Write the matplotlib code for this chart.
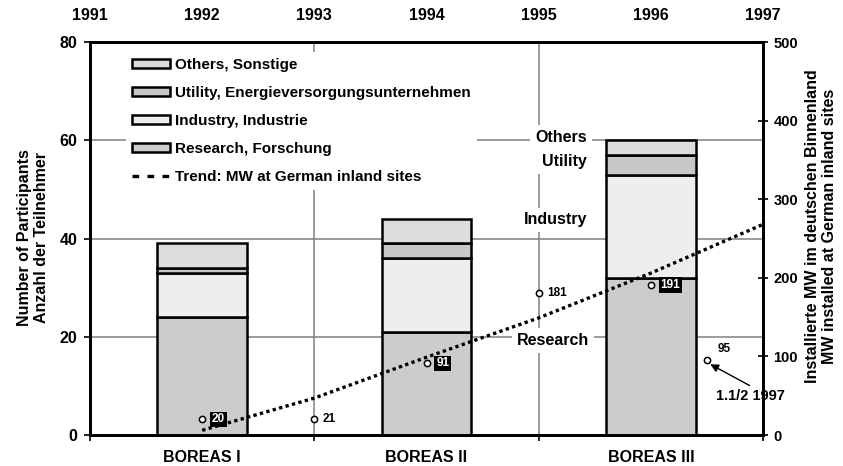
import matplotlib
matplotlib.use('Agg')
import matplotlib.pyplot as plt
from matplotlib.patches import Patch
from matplotlib.lines import Line2D

plt.rcParams['font.family'] = ['Liberation Sans', 'DejaVu Sans']
plt.rcParams['font.weight'] = 'bold'

# participants per conference (left axis)
boreas = ['BOREAS I', 'BOREAS II', 'BOREAS III']
boreas_year = [1992, 1994, 1996]
research = [24, 21, 32]
industry = [9, 15, 21]
utility = [1, 3, 4]
others = [5, 5, 3]

# MW installed at German inland sites (right axis)
mw_year = [1992, 1993, 1994, 1995, 1996, 1996.5]
mw_value = [20, 21, 91, 181, 191, 95]
trend_year = [1992, 1993, 1994, 1995, 1996, 1997]
trend_value = [6, 47, 99, 149, 206, 268]

top_years = [1991, 1992, 1993, 1994, 1995, 1996, 1997]

c_research = '#cccccc'
c_industry = '#eeeeee'
c_utility = '#c8c8c8'
c_others = '#dddddd'

fig = plt.figure(figsize=(8.43, 4.66), dpi=100)
ax = fig.add_axes([0.1068, 0.0665, 0.7983, 0.8433])

bw = 0.8
ek = dict(edgecolor='black', linewidth=1.8, width=bw, zorder=3)
b1 = [r for r in research]
b2 = [b1[i] + industry[i] for i in range(3)]
b3 = [b2[i] + utility[i] for i in range(3)]
ax.bar(boreas_year, research, color=c_research, **ek)
ax.bar(boreas_year, industry, bottom=b1, color=c_industry, **ek)
ax.bar(boreas_year, utility, bottom=b2, color=c_utility, **ek)
ax.bar(boreas_year, others, bottom=b3, color=c_others, **ek)

ax.set_xlim(1991, 1997)
ax.set_ylim(0, 80)
ax.set_yticks([0, 20, 40, 60, 80])
ax.set_xticks([1991, 1993, 1995, 1997])
ax.set_xticklabels([])
ax.set_xticks(boreas_year, minor=True)
ax.set_xticklabels(boreas, minor=True, fontsize=11.5)
ax.tick_params(axis='x', which='minor', length=0, pad=11)
ax.tick_params(axis='x', which='major', direction='out', length=4, width=1.2)
ax.tick_params(axis='y', direction='out', length=4, width=1.2, labelsize=11.5, pad=5)
ax.grid(True, which='major', color='#808080', linewidth=1.1, zorder=0)
ax.set_axisbelow(True)
for s in ax.spines.values():
    s.set_linewidth(2)

# years on top
sec = ax.secondary_xaxis('top')
sec.set_xticks(top_years)
sec.set_xticklabels([str(y) for y in top_years], fontsize=11.5)
sec.tick_params(length=0, pad=14)
sec.spines['top'].set_visible(False)

ax2 = ax.twinx()
ax2.set_ylim(0, 500)
ax2.set_yticks([0, 100, 200, 300, 400, 500])
ax2.tick_params(axis='y', direction='inout', length=7, width=1.2, labelsize=10.5, pad=4)
for s in ax2.spines.values():
    s.set_linewidth(2)

ax2.plot(trend_year, trend_value, color='black', linestyle=(0, (1, 1)),
         linewidth=2.4, zorder=4)
ax2.plot(mw_year, mw_value, linestyle='none', marker='o', markersize=4.5,
         markerfacecolor='white', markeredgecolor='black', markeredgewidth=1.1, zorder=5)

for yr, v in zip(mw_year, mw_value):
    if yr in boreas_year:
        ax2.annotate(str(v), (yr, v), xytext=(7, 0), textcoords='offset points',
                     ha='left', va='center', fontsize=8.5, color='white',
                     bbox=dict(boxstyle='square,pad=0.15', fc='black', ec='none'), zorder=6)
    elif yr == mw_year[-1]:
        ax2.annotate(str(v), (yr, v), xytext=(8, 4), textcoords='offset points',
                     ha='left', va='bottom', fontsize=8.5, zorder=6)
    else:
        ax2.annotate(str(v), (yr, v), xytext=(6, 0), textcoords='offset points',
                     ha='left', va='center', fontsize=8.5, zorder=6)

# arrow pointing at the half-year value
ax2.annotate('', xy=(1996.53, 90), xytext=(1996.88, 63),
             arrowprops=dict(arrowstyle='-|>', color='black', lw=1, mutation_scale=12,
                             shrinkA=0, shrinkB=0))
ax2.text(1996.89, 50, '1.1/2 1997', ha='center', va='center', fontsize=10.5)

# category names next to the BOREAS III bar
lbl_box = dict(boxstyle='square,pad=0.3', fc='white', ec='none')
ax.text(1995.43, 60.6, 'Others', ha='right', va='center', fontsize=11.5, bbox=lbl_box, zorder=2)
ax.text(1995.43, 55.6, 'Utility', ha='right', va='center', fontsize=11.5, bbox=lbl_box, zorder=2)
ax.text(1995.43, 43.8, 'Industry', ha='right', va='center', fontsize=11.5, bbox=lbl_box, zorder=2)
ax.text(1995.45, 19.2, 'Research', ha='right', va='center', fontsize=11.5, bbox=lbl_box, zorder=2)

handles = [
    Patch(facecolor=c_others, edgecolor='black', linewidth=1.8, label='Others, Sonstige'),
    Patch(facecolor=c_utility, edgecolor='black', linewidth=1.8, label='Utility, Energieversorgungsunternehmen'),
    Patch(facecolor=c_industry, edgecolor='black', linewidth=1.8, label='Industry, Industrie'),
    Patch(facecolor=c_research, edgecolor='black', linewidth=1.8, label='Research, Forschung'),
    Line2D([], [], color='black', linestyle=(0, (2, 2.5)), linewidth=2.4,
           label='Trend: MW at German inland sites'),
]
leg = ax2.legend(handles=handles, loc='upper left', bbox_to_anchor=(0.042, 0.995),
                 fontsize=11, frameon=True, framealpha=1, edgecolor='none',
                 handlelength=2.5, handleheight=0.6, handletextpad=0.3, labelspacing=0.92,
                 borderpad=0.4, fancybox=False)
leg.set_zorder(10)

fig.text(0.039, 0.49, 'Number of Participants\nAnzahl der Teilnehmer', rotation=90,
         ha='center', va='center', fontsize=11.5, multialignment='center')
fig.text(0.974, 0.515, 'Installierte MW im deutschen Binnenland\nMW installed at German inland sites',
         rotation=90, ha='center', va='center', fontsize=11.5, multialignment='center')

fig.savefig('out.png', dpi=100)
